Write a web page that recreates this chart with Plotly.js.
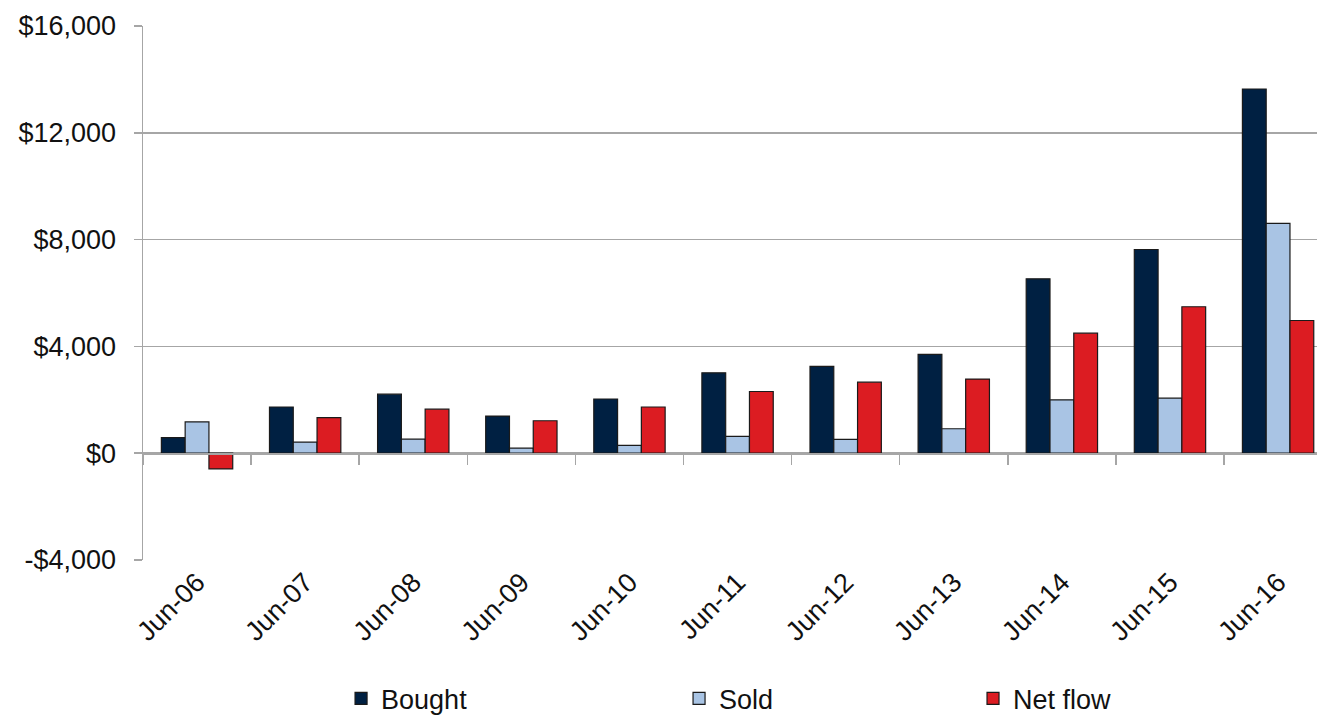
<!DOCTYPE html>
<html>
<head>
<meta charset="utf-8">
<script src="https://cdn.plot.ly/plotly-3.0.1.min.js"></script>
<style>
  html, body { margin: 0; padding: 0; background: #ffffff; }
  #chart { width: 1317px; height: 716px; }
</style>
</head>
<body>
<div id="chart"></div>
<script>
const categories = ['Jun-06','Jun-07','Jun-08','Jun-09','Jun-10','Jun-11','Jun-12','Jun-13','Jun-14','Jun-15','Jun-16'];
const bought  = [580, 1730, 2210, 1390, 2030, 3010, 3250, 3700, 6530, 7630, 13640];
const sold    = [1170, 415, 525, 190, 290, 630, 515, 915, 2000, 2060, 8610];
const netFlow = [-590, 1330, 1650, 1215, 1730, 2310, 2660, 2775, 4495, 5485, 4970];
const seriesNames = ['Bought', 'Sold', 'Net flow'];
const yTickVals = [-4000, 0, 4000, 8000, 12000, 16000];
const yTickText = ['-$4,000', '$0', '$4,000', '$8,000', '$12,000', '$16,000'];

const FONT = 'Liberation Sans, Arial, sans-serif';
const GRID = '#a6a6a6';
const OUTLINE = '#1a1a1a';

function barTrace(name, values, color, legendId) {
  return {
    type: 'bar', name: name, x: categories, y: values,
    xaxis: 'x', yaxis: 'y', legend: legendId,
    marker: { color: color, line: { color: OUTLINE, width: 1.2 } },
    hoverinfo: 'x+y+name'
  };
}

const traces = [
  barTrace(seriesNames[0], bought, '#002042', 'legend'),
  barTrace(seriesNames[1], sold, '#a9c4e4', 'legend2'),
  barTrace(seriesNames[2], netFlow, '#dc1c22', 'legend3'),
  {
    type: 'scatter', mode: 'markers', x: categories, y: categories.map(() => null),
    xaxis: 'x2', yaxis: 'y', showlegend: false, hoverinfo: 'skip'
  }
];

const xRange = [-0.5, 10.36];
const legendBase = {
  orientation: 'h', yanchor: 'middle', xanchor: 'left', y: -0.26,
  bgcolor: 'rgba(0,0,0,0)', font: { family: FONT, size: 27, color: '#111111' }
};

const layout = {
  width: 1317, height: 716,
  margin: { l: 143, r: 0, t: 26, b: 156, autoexpand: false },
  paper_bgcolor: '#ffffff', plot_bgcolor: '#ffffff',
  font: { family: FONT, size: 27, color: '#111111' },
  barmode: 'group', bargap: 0.34, bargroupgap: 0,
  xaxis: {
    type: 'category', range: xRange, automargin: false,
    anchor: 'free', position: 0.2,
    showline: true, linecolor: GRID, linewidth: 1.5,
    ticks: 'outside', tickson: 'boundaries', ticklen: 10, tickcolor: GRID, tickwidth: 1.5,
    showticklabels: false, showgrid: false, zeroline: false, fixedrange: true
  },
  xaxis2: {
    type: 'category', range: xRange, overlaying: 'x', anchor: 'y', side: 'bottom', automargin: false,
    showline: false, ticks: '', showgrid: false, zeroline: false,
    tickangle: -45, tickfont: { family: FONT, size: 27, color: '#111111' }, fixedrange: true
  },
  yaxis: {
    range: [-4000, 16000], tickvals: yTickVals, ticktext: yTickText, automargin: false,
    showline: true, linecolor: GRID, linewidth: 1.5,
    ticks: 'outside', ticklen: 8, tickcolor: GRID, tickwidth: 1.5,
    ticklabelstandoff: 12,
    showgrid: true, gridcolor: GRID, gridwidth: 1.5, zeroline: false,
    tickfont: { family: FONT, size: 27, color: '#111111' }, fixedrange: true
  },
  legend: Object.assign({}, legendBase, { x: 0.1687 }),
  legend2: Object.assign({}, legendBase, { x: 0.4566 }),
  legend3: Object.assign({}, legendBase, { x: 0.707 }),
  showlegend: true
};

Plotly.newPlot('chart', traces, layout, { displayModeBar: false, staticPlot: true });
</script>
</body>
</html>
